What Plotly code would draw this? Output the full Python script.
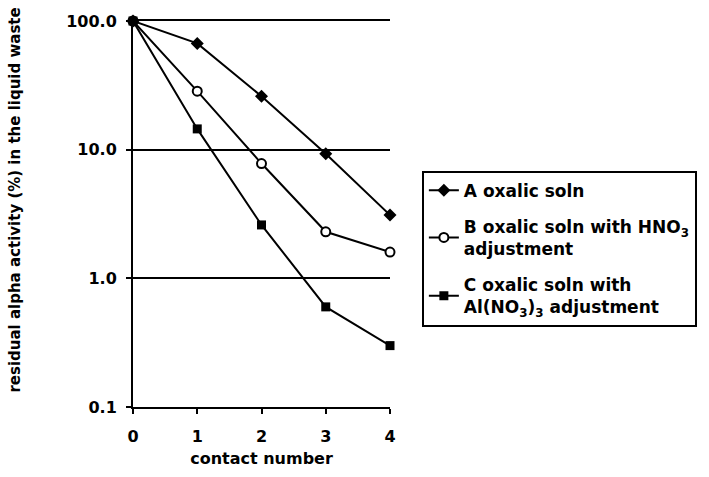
import plotly.graph_objects as go

# Residual alpha activity (%) after each contact
contact = [0, 1, 2, 3, 4]
series_a = [100.0, 67.0, 26.0, 9.3, 3.1]
series_b = [100.0, 28.5, 7.8, 2.3, 1.6]
series_c = [100.0, 14.5, 2.6, 0.60, 0.30]

names = [
    "A oxalic soln",
    "B oxalic soln with HNO<sub>3</sub><br>adjustment",
    "C oxalic soln with<br>Al(NO<sub>3</sub>)<sub>3</sub> adjustment",
]

y_ticks = [0.1, 1, 10, 100]
y_tick_text = ["0.1", "1.0", "10.0", "100.0"]
x_ticks = [0, 1, 2, 3, 4]

FONT = "DejaVu Sans"

fig = go.Figure()

fig.add_trace(go.Scatter(
    x=contact, y=series_a, name=names[0], mode="lines+markers",
    legendgroup="a",
    line=dict(color="black", width=2),
    marker=dict(symbol="diamond", size=10, color="black"),
    cliponaxis=False,
))
fig.add_trace(go.Scatter(
    x=contact, y=series_b, name=names[1], mode="lines+markers",
    legendgroup="b",
    line=dict(color="black", width=2),
    marker=dict(symbol="circle", size=9, color="white",
                line=dict(color="black", width=2)),
    cliponaxis=False,
))
fig.add_trace(go.Scatter(
    x=contact, y=series_c, name=names[2], mode="lines+markers",
    legendgroup="c",
    line=dict(color="black", width=2),
    marker=dict(symbol="square", size=9, color="black"),
    cliponaxis=False,
))

fig.update_layout(
    width=709, height=477,
    margin=dict(l=133, r=319, t=18, b=70),
    paper_bgcolor="white", plot_bgcolor="white",
    font=dict(family=FONT, size=16, color="black", weight="bold"),
    xaxis=dict(
        range=[0, 4], tickvals=x_ticks, ticks="outside", ticklen=5,
        tickwidth=2, tickcolor="black", showline=True, linecolor="black",
        linewidth=2, mirror=True, showgrid=False, zeroline=False,
        ticklabelstandoff=9,
        tickfont=dict(size=16, family=FONT, weight="bold"),
        title=dict(text="contact number", standoff=8,
                   font=dict(size=16, family=FONT, weight="bold")),
    ),
    xaxis2=dict(
        range=[0, 4], tickvals=x_ticks, ticks="inside", ticklen=5,
        tickwidth=2, tickcolor="black", showticklabels=False,
        showline=False, showgrid=False, zeroline=False,
        overlaying="x", side="bottom", anchor="y",
    ),
    yaxis=dict(
        type="log", range=[-1, 2], tickvals=y_ticks, ticktext=y_tick_text,
        ticks="outside", ticklen=5, tickwidth=2, tickcolor="black",
        showline=True, linecolor="black", linewidth=2,
        showgrid=True, gridcolor="black", gridwidth=2, zeroline=False,
        ticklabelstandoff=6,
        tickfont=dict(size=16, family=FONT, weight="bold"),
    ),
    legend=dict(
        x=1.124, y=0.612, xanchor="left", yanchor="top",
        bgcolor="white", bordercolor="black", borderwidth=2,
        font=dict(size=17, family=FONT, weight="bold"),
        itemwidth=30, tracegroupgap=11,
    ),
    showlegend=True,
)

fig.add_annotation(
    text="residual alpha activity (%) in the liquid waste",
    xref="paper", yref="paper", x=-118 / 257, y=(407 - 199) / 389,
    xanchor="center", yanchor="middle", textangle=-90, showarrow=False,
    font=dict(size=15, family=FONT, weight="bold"),
)

fig.write_html("out.html")
